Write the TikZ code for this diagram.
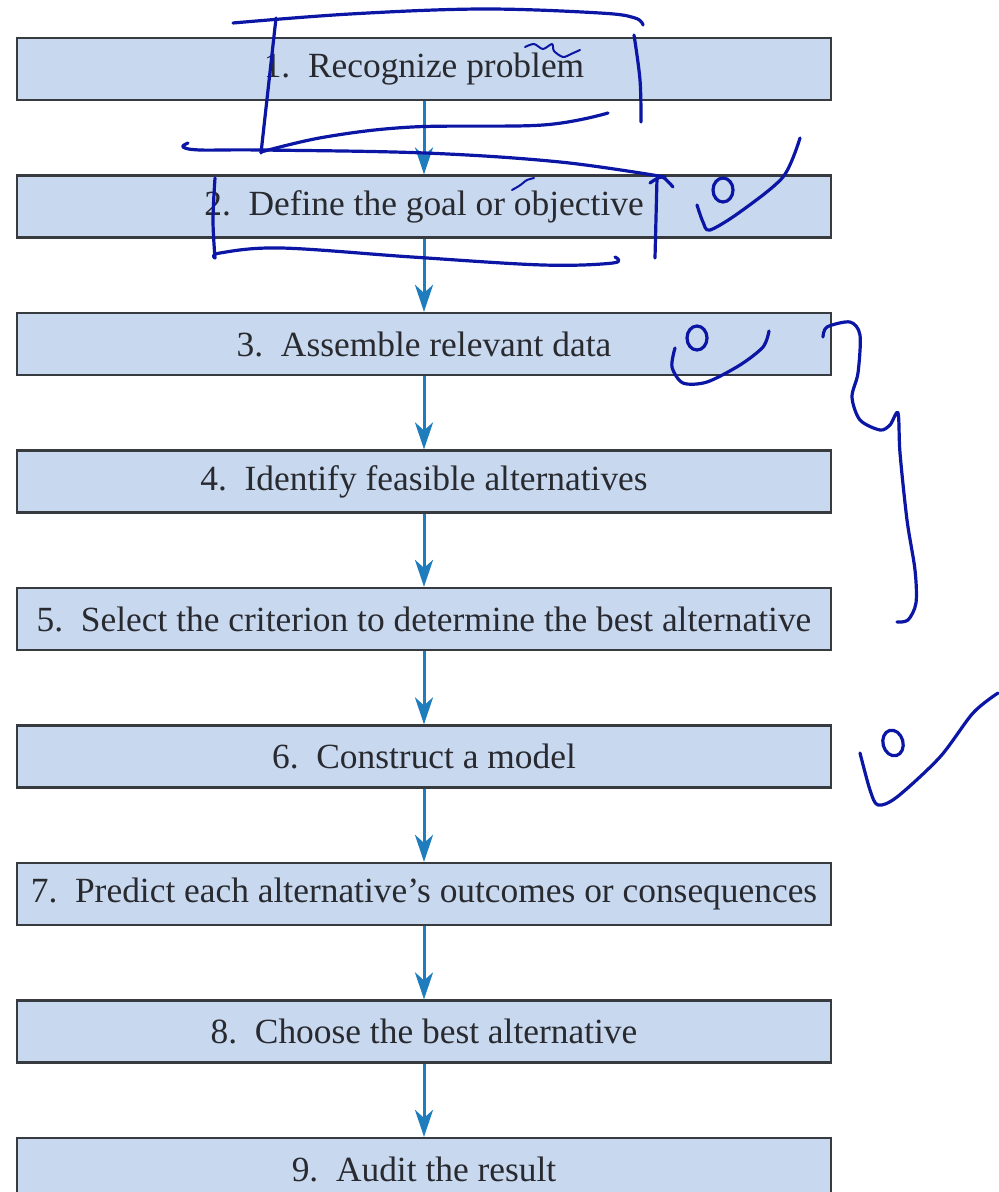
\documentclass[tikz,border=0pt]{standalone}
\usepackage{fontspec}
\setmainfont{Liberation Serif}
\newfontfamily\boxfont{Liberation Serif}
\usetikzlibrary{arrows.meta}
\definecolor{boxfill}{RGB}{200,216,238}
\definecolor{boxline}{RGB}{55,58,62}
\definecolor{arrowc}{RGB}{31,125,190}
\definecolor{penc}{RGB}{12,22,165}
\definecolor{txt}{RGB}{40,42,48}
\begin{document}
\begin{tikzpicture}[x=1pt,y=-1pt,
  stepbox/.style={draw=boxline, line width=2.2pt, fill=boxfill, minimum width=814pt, minimum height=62pt, inner sep=0pt, font=\boxfont\fontsize{35.4}{40}\selectfont, text=txt},
  flow/.style={draw=arrowc, line width=3pt, -{Stealth[length=27pt,width=18pt,inset=8pt]}},
  pen/.style={draw=penc, line width=3.2pt, line cap=round, line join=round}]
\clip (0,0) rectangle (999,1192);
\fill[white] (0,0) rectangle (999,1192);
\node[stepbox] (s1) at (424,69) {1.\enspace Recognize problem};
\node[stepbox] (s2) at (424,206.5) {2.\enspace Define the goal or objective};
\node[stepbox] (s3) at (424,344) {3.\enspace Assemble relevant data};
\node[stepbox] (s4) at (424,481.5) {4.\enspace Identify feasible alternatives};
\node[stepbox] (s5) at (424,619) {5.\enspace Select the criterion to determine the best alternative};
\node[stepbox] (s6) at (424,756.5) {6.\enspace Construct a model};
\node[stepbox] (s7) at (424,894) {7.\enspace Predict each alternative’s outcomes or consequences};
\node[stepbox] (s8) at (424,1031.5) {8.\enspace Choose the best alternative};
\node[stepbox] (s9) at (424,1169) {9.\enspace Audit the result};
\foreach \a/\b in {s1/s2,s2/s3,s3/s4,s4/s5,s5/s6,s6/s7,s7/s8,s8/s9}
  \draw[flow] (\a.south) -- (\b.north);
% handwritten annotations
\draw[pen] plot[smooth,tension=0.6] coordinates {(233,23) (350,14) (482,9) (600,13) (635,18) (643,25)};
\draw[pen] (276,18) -- (261,153);
\draw[pen] plot[smooth,tension=0.6] coordinates {(634,35) (640,80) (641,122)};
\draw[pen] plot[smooth,tension=0.6] coordinates {(261,152) (325,137) (412,127) (543,125) (608,113)};
\draw[pen] plot[smooth,tension=0.6] coordinates {(188,143) (183,147) (200,150) (261,150) (425,153) (560,162) (665,177)};
\draw[pen] (657,178) -- (655,258);
\draw[pen] plot[smooth,tension=0.5] coordinates {(650,183) (662,177) (673,187)};
\draw[pen] plot[smooth,tension=0.6] coordinates {(215,178) (213,220) (215,258)};
\draw[pen] plot[smooth,tension=0.6] coordinates {(215,258) (220,253) (281,248) (412,257) (543,265) (613,263) (615,257)};
\draw[pen, line width=2pt] plot[smooth,tension=0.5] coordinates {(525,47) (534,44) (543,49) (552,44) (554,51) (563,57) (571,54) (580,50)};
\draw[pen, line width=2pt] plot[smooth,tension=0.5] coordinates {(512,190) (519,186) (523,183) (527,180) (534,178)};
\draw[pen] (723,190) ellipse [x radius=10, y radius=12];
\draw[pen] plot[smooth,tension=0.5] coordinates {(697,205) (703,222) (710,230) (740,212) (783,177) (800,138)};
\draw[pen] (697,338) ellipse [x radius=10, y radius=12];
\draw[pen] plot[smooth,tension=0.5] coordinates {(675,348) (672,367) (683,383) (707,382) (740,365) (763,347) (769,331)};
\draw[pen] plot[smooth,tension=0.5] coordinates {(823,337) (827,327) (850,322) (860,335) (858,373) (852,397) (860,420) (880,430) (890,425) (898,413) (900,453) (907,520) (915,570) (916,603) (908,620) (897,622)};
\draw[pen] (893,743) ellipse [x radius=10, y radius=13, rotate=15];
\draw[pen] plot[smooth,tension=0.5] coordinates {(860,753) (870,790) (878,805) (897,797) (940,757) (973,713) (998,693)};
\end{tikzpicture}
\end{document}
